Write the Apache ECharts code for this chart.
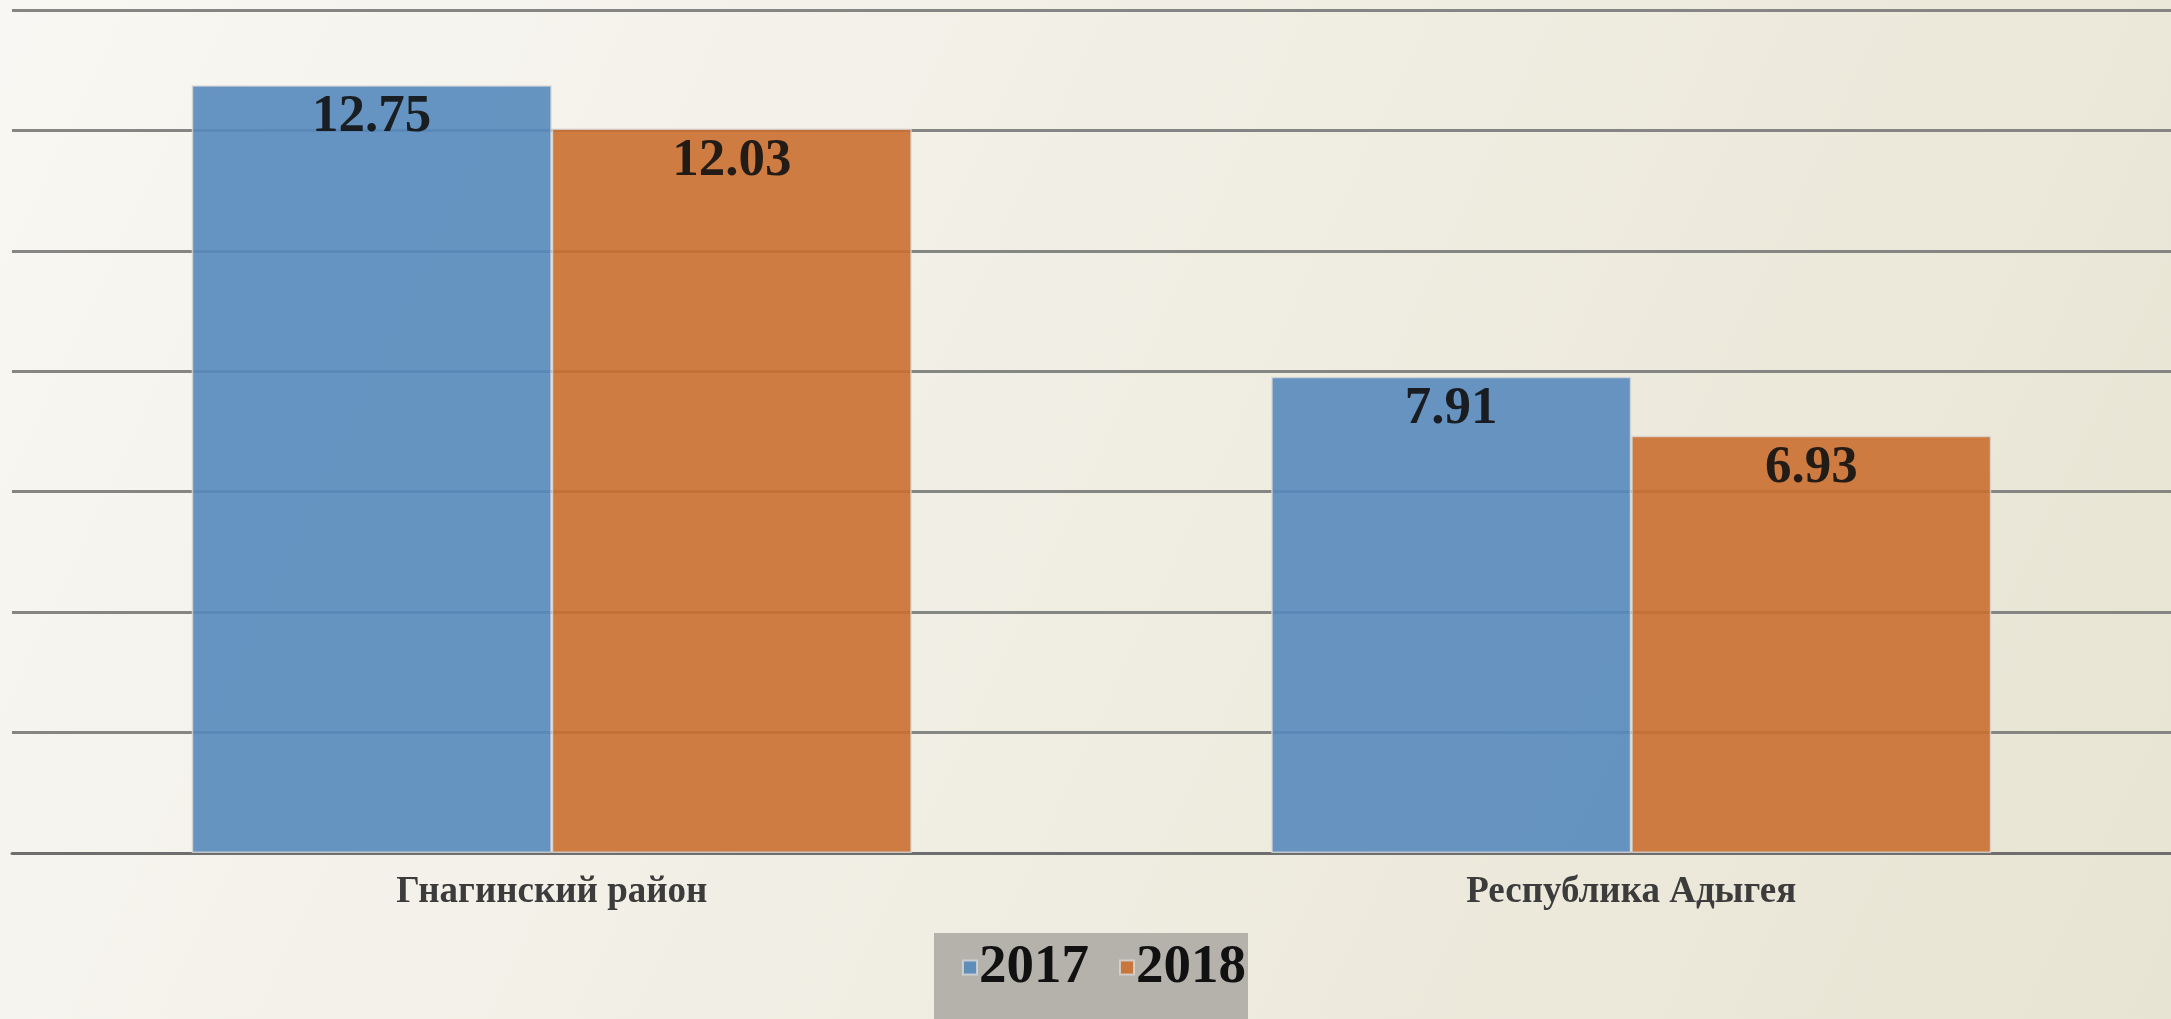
<!DOCTYPE html>
<html>
<head>
<meta charset="utf-8">
<title>Гнагинский район / Республика Адыгея</title>
<script src="https://cdn.jsdelivr.net/npm/echarts@6/dist/echarts.min.js"></script>
<style>
  html, body { margin: 0; padding: 0; }
  #chart { width: 2171px; height: 1019px; }
</style>
</head>
<body>
<div id="chart"></div>
<script>
// данные с картинки
const categories = ['Гнагинский район', 'Республика Адыгея'];
const years = ['2017', '2018'];
const values2017 = [12.75, 7.91];
const values2018 = [12.03, 6.93];

const serif = "'Liberation Serif', 'DejaVu Serif', serif";

const chart = echarts.init(document.getElementById('chart'));

function barSeries(name, data, color) {
  return {
    name: name,
    type: 'bar',
    data: data,
    barGap: '0%',
    barCategoryGap: '33.3%',
    itemStyle: {
      color: color,
      opacity: 0.9,
      borderColor: 'rgba(215,215,215,0.9)',
      borderWidth: 1.5
    },
    label: {
      show: true,
      position: 'insideTop',
      distance: 6,
      fontFamily: serif,
      fontWeight: 'bold',
      fontSize: 53,
      color: '#111'
    }
  };
}

const option = {
  backgroundColor: new echarts.graphic.LinearGradient(0, 0, 1, 1, [
    { offset: 0, color: '#f8f7f3' },
    { offset: 1, color: '#e8e4d3' }
  ]),
  animation: false,
  grid: {
    left: 12,
    right: 0,
    top: 10,
    bottom: 166,
    containLabel: false
  },
  legend: {
    data: years,
    top: 933,
    left: 934,
    backgroundColor: '#b4b2ab',
    padding: [7, 2, 30, 28],
    itemWidth: 14,
    itemHeight: 14,
    itemGap: 30,
    icon: 'rect',
    textStyle: {
      fontFamily: serif,
      fontWeight: 'bold',
      fontSize: 55,
      color: '#111',
      padding: [0, 0, 0, -3]
    }
  },
  xAxis: {
    type: 'category',
    data: categories,
    axisTick: { show: false },
    axisLine: { lineStyle: { color: '#6e6e6e', width: 3 } },
    axisLabel: {
      margin: 21,
      fontFamily: serif,
      fontWeight: 'bold',
      fontSize: 37,
      color: '#3c3c3c'
    }
  },
  yAxis: {
    type: 'value',
    min: 0,
    max: 14,
    interval: 2,
    axisLabel: { show: false },
    axisLine: { show: false },
    axisTick: { show: false },
    splitLine: { lineStyle: { color: '#858583', width: 3 } }
  },
  series: [
    barSeries(years[0], values2017, '#568abc'),
    barSeries(years[1], values2018, '#ca6f30')
  ]
};

chart.setOption(option);
</script>
</body>
</html>
